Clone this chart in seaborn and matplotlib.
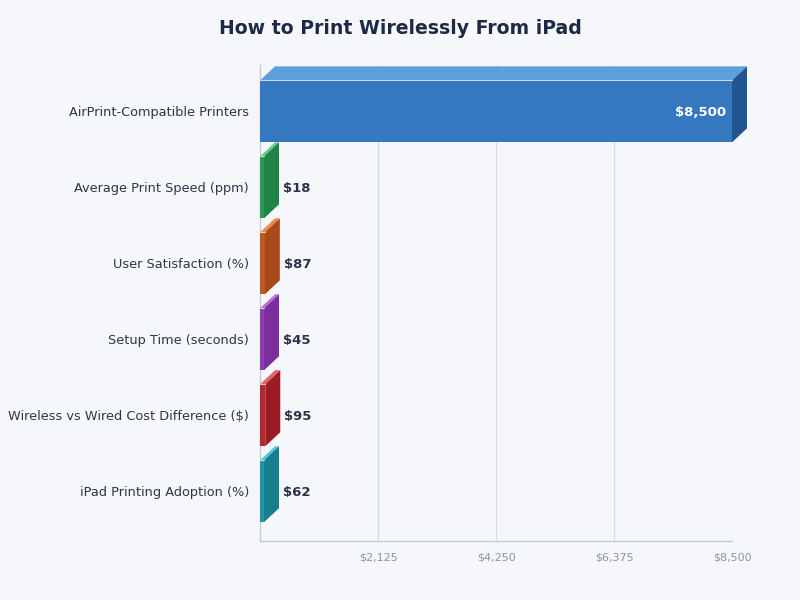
import matplotlib
matplotlib.use("Agg")
import matplotlib.pyplot as plt
import seaborn as sns
import pandas as pd
from matplotlib.ticker import FuncFormatter

categories = [
    "AirPrint-Compatible Printers",
    "Average Print Speed (ppm)",
    "User Satisfaction (%)",
    "Setup Time (seconds)",
    "Wireless vs Wired Cost Difference ($)",
    "iPad Printing Adoption (%)",
]
values = [8500, 18, 87, 45, 95, 62]
front_colors = ["#3578BF", "#2A9A55", "#C05A24", "#8E3DB5", "#B8262E", "#2196A4"]
top_colors = ["#5BA0DD", "#5ECF8C", "#EE8A4E", "#B672DA", "#E4646E", "#52CAD8"]
side_colors = ["#21558F", "#1F8447", "#A64A1A", "#7A2F9D", "#9B1C22", "#1A7F8C"]
xticks = [2125, 4250, 6375, 8500]

bg = "#F5F7FB"
sns.set_theme(style="white")
plt.rcParams["font.family"] = ["DejaVu Sans"]

fig = plt.figure(figsize=(8, 6), dpi=100, facecolor=bg)
ax = fig.add_axes([0.325, 0.098, 0.59, 0.793])
ax.set_facecolor(bg)

df = pd.DataFrame({"cat": categories, "val": values})
bar_h = 0.816
sns.barplot(data=df, x="val", y="cat", hue="cat", palette=front_colors,
            orient="h", width=bar_h, legend=False, ax=ax, zorder=3,
            edgecolor="none", saturation=1)

xmax = 8500
ax.set_xlim(0, xmax)
ax.set_ylim(5.658, -0.605)

dx = 15 * xmax / 472.0
dy = 14 / 76.0
minw = 4 * xmax / 472.0
for i, v in enumerate(values):
    top = i - bar_h / 2
    bot = i + bar_h / 2
    w = max(v, minw)
    if v < minw:
        ax.fill([0, w, w, 0], [top, top, bot, bot], color=front_colors[i],
                zorder=3, lw=0)
    # top face
    ax.fill([0, w, w + dx, dx], [top, top, top - dy, top - dy],
            color=top_colors[i], zorder=4, lw=0, clip_on=False)
    # side face
    ax.fill([w, w + dx, w + dx, w], [top, top - dy, bot - dy, bot],
            color=side_colors[i], zorder=4, lw=0, clip_on=False)
    # highlight edge
    ax.plot([0, w], [top, top], color="white", lw=0.8, alpha=0.7, zorder=5,
            clip_on=False)
    if v > xmax * 0.3:
        ax.text(v - 100, i + 0.02, f"${v:,}", ha="right", va="center",
                color="white", fontsize=9.5, fontweight="bold", zorder=6)
    else:
        ax.text(w + dx + 70, i + 0.02, f"${v:,}", ha="left", va="center",
                color="#2A3348", fontsize=9.5, fontweight="bold", zorder=6)

ax.set_xticks(xticks)
ax.xaxis.set_major_formatter(FuncFormatter(lambda x, p: f"${x:,.0f}"))
ax.grid(axis="x", color="#D5DAE1", lw=0.9, zorder=0)
ax.set_axisbelow(True)
ax.tick_params(axis="x", colors="#8A94A6", labelsize=8, length=0, pad=8)
ax.tick_params(axis="y", labelcolor="#2D3748", labelsize=9.3, length=0, pad=8)
ax.set_xlabel("")
ax.set_ylabel("")
for s in ["top", "right"]:
    ax.spines[s].set_visible(False)
for s in ["left", "bottom"]:
    ax.spines[s].set_color("#C5CBD4")
    ax.spines[s].set_linewidth(1)

fig.text(0.5, 0.953, "How to Print Wirelessly From iPad", ha="center", va="center",
         fontsize=13.6, fontweight="bold", color="#1E2A45")

fig.savefig("out.png", dpi=100, facecolor=bg)
